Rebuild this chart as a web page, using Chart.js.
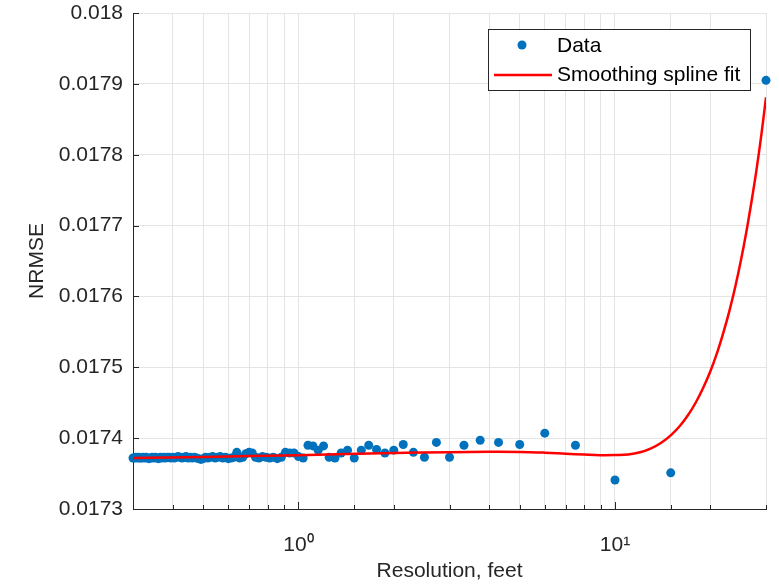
<!DOCTYPE html>
<html>
<head>
<meta charset="utf-8">
<script src="https://cdn.jsdelivr.net/npm/chart.js@4.4.0/dist/chart.umd.min.js"></script>
<style>
  html, body { margin: 0; padding: 0; background: #fff; }
  canvas { display: block; }
</style>
</head>
<body>
<canvas id="grafico" width="779" height="584"></canvas>
<script>
// resolução (pés) e NRMSE de cada ponto medido
const resolucao = [
  30, 15, 10, 7.5, 6, 5, 4.2857, 3.75, 3.3333, 3,
  2.7273, 2.5, 2.3077, 2.1429, 2, 1.875, 1.7647, 1.6667, 1.5789, 1.5,
  1.4286, 1.3636, 1.3043, 1.25, 1.2, 1.1538, 1.1111, 1.0714, 1.0345, 1,
  0.9677, 0.9375, 0.9091, 0.8824, 0.8571, 0.8333, 0.8108, 0.7895, 0.7692, 0.75,
  0.7317, 0.7143, 0.6977, 0.6818, 0.6667, 0.6522, 0.6383, 0.625, 0.6122, 0.6,
  0.5882, 0.5769, 0.566, 0.5556, 0.5455, 0.5357, 0.5263, 0.5172, 0.5085, 0.5,
  0.4918, 0.4839, 0.4762, 0.4688, 0.4615, 0.4545, 0.4478, 0.4412, 0.4348, 0.4286,
  0.4225, 0.4167, 0.411, 0.4054, 0.4, 0.3947, 0.3896, 0.3846, 0.3797, 0.375,
  0.3704, 0.3659, 0.3614, 0.3571, 0.3529, 0.3488, 0.3448, 0.3409, 0.3371, 0.3333,
  0.3297, 0.3261, 0.3226, 0.3191, 0.3158, 0.3125, 0.3093, 0.3061, 0.303, 0.3
];
const nrmse = [
  0.017905, 0.017351, 0.017341, 0.017390, 0.017407, 0.017391, 0.017394, 0.017397, 0.017390, 0.017373,
  0.017394, 0.017373, 0.017380, 0.017391, 0.017383, 0.017379, 0.017384, 0.017390, 0.017383, 0.017372,
  0.017383, 0.017379, 0.017372, 0.017373, 0.017389, 0.017383, 0.017389, 0.017390, 0.017372, 0.017374,
  0.017379, 0.017379, 0.017380, 0.017373, 0.017371, 0.017373, 0.017372, 0.017373, 0.017374, 0.017372,
  0.017373, 0.017379, 0.017380, 0.017378, 0.017373, 0.017372, 0.017380, 0.017373, 0.017372, 0.017371,
  0.017373, 0.017372, 0.017374, 0.017373, 0.017372, 0.017374, 0.017373, 0.017372, 0.017373, 0.017371,
  0.017370, 0.017371, 0.017372, 0.017373, 0.017372, 0.017373, 0.017372, 0.017374, 0.017373, 0.017372,
  0.017373, 0.017374, 0.017373, 0.017372, 0.017373, 0.017372, 0.017373, 0.017373, 0.017372, 0.017373,
  0.017372, 0.017373, 0.017371, 0.017372, 0.017373, 0.017372, 0.017373, 0.017372, 0.017371, 0.017372,
  0.017373, 0.017372, 0.017373, 0.017372, 0.017372, 0.017373, 0.017372, 0.017373, 0.017372, 0.017372
];

// curva do ajuste (smoothing spline)
const ajusteX = [0.3, 0.5, 1, 2, 3, 4, 5, 6, 7, 8, 9, 10, 11, 12, 13, 14, 15, 16, 17, 18, 19, 20, 21, 22, 23, 24, 25, 26, 27, 28, 29, 30];
const ajusteY = [
  0.017372, 0.0173735, 0.017376, 0.017379, 0.0173802, 0.0173808, 0.0173806,
  0.0173795, 0.017378, 0.0173768, 0.017376, 0.0173762, 0.017377, 0.01738, 0.0173857, 0.0173936,
  0.017404, 0.0174168, 0.0174323, 0.0174503, 0.017471, 0.017494, 0.01752, 0.017549, 0.01758,
  0.017614, 0.017651, 0.017691, 0.017734, 0.017779, 0.017828, 0.017881
];

const legendas = ["Data", "Smoothing spline fit"];
const tituloX = "Resolution, feet";
const tituloY = "NRMSE";

const azul = "#0072BD";
const vermelho = "#FF0000";
const texto = "#262626";
const fonte = { family: "'Liberation Sans', Arial, sans-serif", size: 21 };

const pontos = resolucao.map((x, i) => ({ x: x, y: nrmse[i] }));
const curva = ajusteX.map((x, i) => ({ x: x, y: ajusteY[i] }));

// marcas de escala para dentro + legenda dentro do gráfico
const extras = {
  id: "extras",
  afterDraw(chart) {
    const ctx = chart.ctx;
    const area = chart.chartArea;
    const sx = chart.scales.x;
    const sy = chart.scales.y;
    ctx.save();
    ctx.strokeStyle = texto;
    ctx.lineWidth = 1;
    sx.ticks.forEach((t) => {
      const px = Math.round(sx.getPixelForValue(t.value)) + 0.5;
      const maior = Math.abs(t.value - 1) < 1e-9 || Math.abs(t.value - 10) < 1e-9;
      ctx.beginPath();
      ctx.moveTo(px, area.bottom);
      ctx.lineTo(px, area.bottom - (maior ? 7 : 4));
      ctx.stroke();
    });
    sy.ticks.forEach((t) => {
      const py = Math.round(sy.getPixelForValue(t.value)) + 0.5;
      ctx.beginPath();
      ctx.moveTo(area.left, py);
      ctx.lineTo(area.left + 6, py);
      ctx.stroke();
    });

    // legenda
    const L = area.right - 278, T = area.top + 16, W = 262, H = 61;
    ctx.fillStyle = "#fff";
    ctx.fillRect(L, T, W, H);
    ctx.strokeStyle = texto;
    ctx.strokeRect(L + 0.5, T + 0.5, W, H);
    ctx.fillStyle = azul;
    ctx.beginPath();
    ctx.arc(L + 34, T + 16, 4.5, 0, Math.PI * 2);
    ctx.fill();
    ctx.strokeStyle = vermelho;
    ctx.lineWidth = 2.5;
    ctx.beginPath();
    ctx.moveTo(L + 6, T + 46);
    ctx.lineTo(L + 64, T + 46);
    ctx.stroke();
    ctx.fillStyle = "#000";
    ctx.font = "21px 'Liberation Sans', Arial, sans-serif";
    ctx.textBaseline = "middle";
    ctx.textAlign = "left";
    ctx.fillText(legendas[0], L + 69, T + 17);
    ctx.fillText(legendas[1], L + 69, T + 46);
    ctx.restore();
  }
};

const grafico = new Chart(document.getElementById("grafico"), {
  type: "scatter",
  data: {
    datasets: [
      {
        type: "line",
        label: legendas[1],
        data: curva,
        borderColor: vermelho,
        borderWidth: 2.5,
        pointRadius: 0,
        fill: false,
        tension: 0.4,
        order: 0,
      },
      {
        label: legendas[0],
        data: pontos,
        backgroundColor: azul,
        borderColor: azul,
        pointRadius: 4.5,
        pointBorderWidth: 0,
        clip: false,
        order: 1,
      },
    ],
  },
  options: {
    responsive: false,
    animation: false,
    devicePixelRatio: 1,
    layout: { padding: { top: 13, right: 13, left: 25, bottom: 0 } },
    plugins: {
      legend: { display: false },
      tooltip: { enabled: false },
    },
    scales: {
      x: {
        type: "logarithmic",
        min: 0.3,
        max: 30,
        afterFit: (s) => {
          s.height = 75;
          s.paddingLeft = 0;
          s.paddingRight = 0;
        },
        ticks: {
          autoSkip: false,
          maxRotation: 0,
          padding: 24,
          color: texto,
          font: fonte,
          callback: (v) => {
            if (Math.abs(v - 1) < 1e-9) return "10\u2070";
            if (Math.abs(v - 10) < 1e-9) return "10\u00B9";
            return "";
          },
        },
        grid: { color: "#e4e4e4", drawTicks: false },
        border: { color: texto },
        title: { display: true, text: tituloX, color: texto, font: fonte, padding: 0 },
      },
      y: {
        min: 0.0173,
        max: 0.018,
        afterFit: (s) => {
          s.width = 108;
          s.paddingTop = 0;
          s.paddingBottom = 0;
        },
        ticks: {
          stepSize: 0.0001,
          padding: 10,
          color: texto,
          font: fonte,
          callback: (v) => String(Number(v.toFixed(4))),
        },
        grid: { color: "#e4e4e4", drawTicks: false },
        border: { color: texto },
        title: { display: true, text: tituloY, color: texto, font: fonte, padding: 0 },
      },
    },
  },
  plugins: [extras],
});
</script>
</body>
</html>
